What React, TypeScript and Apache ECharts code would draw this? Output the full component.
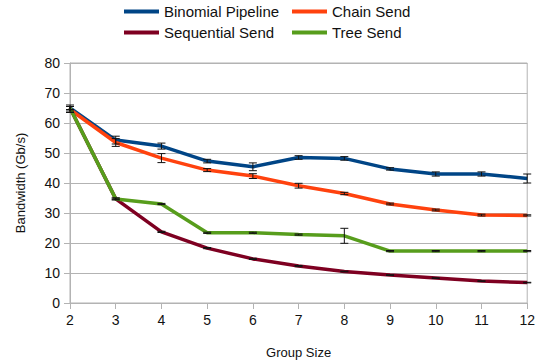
import React, { useEffect, useRef } from "react";
import * as echarts from "echarts";

const groupSizes = ["2", "3", "4", "5", "6", "7", "8", "9", "10", "11", "12"];

const binomialPipeline = [65, 54.3, 52.3, 47.3, 45.4, 48.5, 48.2, 44.7, 43, 43, 41.5];
const binomialErr = [1, 1.3, 1, 0.6, 1.3, 0.6, 0.6, 0.4, 0.7, 0.7, 1.5];

const chainSend = [64.5, 53.5, 48.3, 44.3, 42.3, 39.1, 36.5, 33, 31, 29.3, 29.2];
const chainErr = [1, 1.3, 1.5, 0.5, 0.8, 0.8, 0.4, 0.3, 0.3, 0.3, 0.2];

const sequentialSend = [65, 34.7, 23.7, 18.3, 14.7, 12.3, 10.5, 9.3, 8.3, 7.3, 6.8];
const sequentialErr = [0.5, 0.3, 0.2, 0.2, 0.2, 0.2, 0.1, 0.1, 0.1, 0.1, 0.1];

const treeSend = [65, 34.7, 33, 23.4, 23.4, 22.8, 22.4, 17.3, 17.3, 17.3, 17.3];
const treeErr = [0.5, 0.3, 0.2, 0.2, 0.2, 0.2, 2.5, 0.2, 0.2, 0.2, 0.2];

const FONT = "'Liberation Sans', Arial, sans-serif";

type Line = { name: string; values: number[]; errors: number[]; color: string };

const lines: Line[] = [
  { name: "Binomial Pipeline", values: binomialPipeline, errors: binomialErr, color: "#004586" },
  { name: "Chain Send", values: chainSend, errors: chainErr, color: "#ff420e" },
  { name: "Sequential Send", values: sequentialSend, errors: sequentialErr, color: "#7e0021" },
  { name: "Tree Send", values: treeSend, errors: treeErr, color: "#579d1c" },
];

function errorBarSeries(line: Line) {
  const data = line.values.map((v, i) => [i, v - line.errors[i], v + line.errors[i]]);
  return {
    type: "custom",
    name: line.name + " error",
    data,
    z: 10,
    silent: true,
    renderItem: (params: any, api: any) => {
      const x = api.value(0);
      const lo = api.coord([x, api.value(1)]);
      const hi = api.coord([x, api.value(2)]);
      const half = 4;
      const style = { stroke: "#111", lineWidth: 1 };
      return {
        type: "group",
        children: [
          { type: "line", shape: { x1: lo[0], y1: lo[1], x2: hi[0], y2: hi[1] }, style },
          { type: "line", shape: { x1: lo[0] - half, y1: lo[1], x2: lo[0] + half, y2: lo[1] }, style },
          { type: "line", shape: { x1: hi[0] - half, y1: hi[1], x2: hi[0] + half, y2: hi[1] }, style },
        ],
      };
    },
  };
}

export default function App() {
  const ref = useRef<HTMLDivElement>(null);

  useEffect(() => {
    if (!ref.current) return;
    const chart = echarts.init(ref.current, undefined, { renderer: "svg" });
    const legendCommon = {
      orient: "vertical",
      top: 4,
      padding: 0,
      itemWidth: 35,
      itemHeight: 4,
      itemGap: 6,
      icon: "rect",
      textStyle: { fontFamily: FONT, fontSize: 15, color: "#111" },
      selectedMode: false,
    };
    chart.setOption({
      animation: false,
      backgroundColor: "#fff",
      legend: [
        { ...legendCommon, left: 124, data: ["Binomial Pipeline", "Sequential Send"] },
        { ...legendCommon, left: 292, data: ["Chain Send", "Tree Send"] },
      ],
      grid: {
        left: 70,
        right: 9,
        top: 63,
        bottom: 61,
        show: true,
        borderColor: "#b3b3b3",
        borderWidth: 1,
      },
      xAxis: {
        type: "category",
        data: groupSizes,
        boundaryGap: false,
        name: "Group Size",
        nameLocation: "middle",
        nameGap: 43,
        nameTextStyle: { fontFamily: FONT, fontSize: 13, color: "#111" },
        axisLine: { lineStyle: { color: "#b3b3b3", width: 1 } },
        axisTick: { show: true, length: 6, lineStyle: { color: "#b3b3b3" } },
        axisLabel: { fontFamily: FONT, fontSize: 14, color: "#111", margin: 10 },
        splitLine: { show: false },
      },
      yAxis: {
        type: "value",
        min: 0,
        max: 80,
        interval: 10,
        name: "Bandwidth (Gb/s)",
        nameLocation: "middle",
        nameGap: 43,
        nameTextStyle: { fontFamily: FONT, fontSize: 13, color: "#111" },
        axisLine: { show: true, lineStyle: { color: "#b3b3b3", width: 1 } },
        axisTick: { show: true, length: 6, lineStyle: { color: "#b3b3b3" } },
        axisLabel: { fontFamily: FONT, fontSize: 14, color: "#111", margin: 10 },
        splitLine: { lineStyle: { color: "#b3b3b3", width: 1 } },
      },
      series: [
        ...lines.map((l) => ({
          type: "line",
          name: l.name,
          data: l.values,
          symbol: "none",
          color: l.color,
          lineStyle: { color: l.color, width: 3.5 },
          z: 3,
        })),
        ...lines.map(errorBarSeries),
      ],
    });
    return () => chart.dispose();
  }, []);

  return <div ref={ref} style={{ width: 538, height: 364, position: "absolute", left: 0, top: 0 }} />;
}
